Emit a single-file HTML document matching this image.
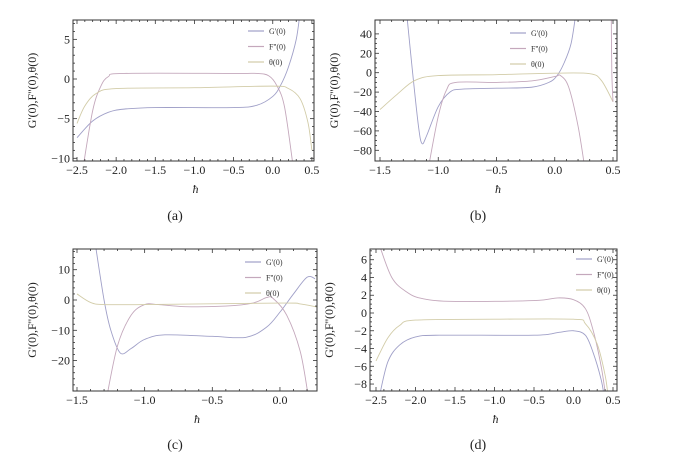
<!DOCTYPE html>
<html><head><meta charset="utf-8"><style>
body{margin:0;background:#fff}
svg{display:block}
text{font-family:"Liberation Serif","DejaVu Serif",serif}
</style></head><body>
<svg id="s" width="676" height="458" xmlns="http://www.w3.org/2000/svg"></svg>
<script>
const S=document.getElementById('s');const NS='http://www.w3.org/2000/svg';
function el(t,a,txt){const e=document.createElementNS(NS,t);for(const k in a)e.setAttribute(k,a[k]);if(t==='text')e.setAttribute('font-family',"'Liberation Serif', serif");if(txt!==undefined)e.textContent=txt;S.appendChild(e);return e;}
const C={g:'#a0a0c8',f:'#c4a8bc',t:'#d2cca8'};
function panel(p){
 const X=x=>p.x0+(x-p.xa)*p.sx, Y=y=>p.y0-(y-p.ya)*p.sy;
 const id='c'+p.name;
 const cp=el('clipPath',{id});
 const r=document.createElementNS(NS,'rect');r.setAttribute('x',p.L);r.setAttribute('y',p.T);r.setAttribute('width',p.R-p.L);r.setAttribute('height',p.B-p.T);cp.appendChild(r);
 p.curves.forEach(([c,pts])=>{
  const P=pts.map(q=>[X(q[0]),Y(q[1])]);
  let d='M'+P[0][0]+','+P[0][1];
  for(let i=0;i<P.length-1;i++){const p0=P[Math.max(0,i-1)],p1=P[i],p2=P[i+1],p3=P[Math.min(P.length-1,i+2)];
   d+=' C'+(p1[0]+(p2[0]-p0[0])/6)+','+(p1[1]+(p2[1]-p0[1])/6)+' '+(p2[0]-(p3[0]-p1[0])/6)+','+(p2[1]-(p3[1]-p1[1])/6)+' '+p2[0]+','+p2[1];}
  el('path',{d,fill:'none',stroke:C[c],'stroke-width':0.9,'clip-path':'url(#'+id+')'});
 });
 el('rect',{x:p.L,y:p.T,width:p.R-p.L,height:p.B-p.T,fill:'none',stroke:'#333','stroke-width':1});
 for(let v=p.xt[0];v<=p.xt[1]+1e-9;v+=p.xt[2]/5){const px=X(v);if(px<p.L||px>p.R)continue;
  const maj=Math.abs(Math.round(v/p.xt[2])*p.xt[2]-v)<1e-6;const l=maj?4:2;
  el('line',{x1:px,x2:px,y1:p.B,y2:p.B-l,stroke:'#333','stroke-width':.8});el('line',{x1:px,x2:px,y1:p.T,y2:p.T+l,stroke:'#333','stroke-width':.8});
  if(maj){let s=Math.abs(v)<1e-9?'0.0':v.toFixed(1).replace('-','\u2212');el('text',{x:px,y:p.B+13,'font-size':12,'text-anchor':'middle',fill:'#222'},s);}}
 for(let v=p.yt[0];v<=p.yt[1]+1e-9;v+=p.yt[2]/p.yt[3]){const py=Y(v);if(py<p.T||py>p.B)continue;
  const maj=Math.abs(Math.round(v/p.yt[2])*p.yt[2]-v)<1e-6;const l=maj?4:2;
  el('line',{x1:p.L,x2:p.L+l,y1:py,y2:py,stroke:'#333','stroke-width':.8});el('line',{x1:p.R,x2:p.R-l,y1:py,y2:py,stroke:'#333','stroke-width':.8});
  if(maj&&py<p.B-1){el('text',{x:p.L-3,y:py+4,'font-size':12,'text-anchor':'end',fill:'#222'},String(Math.round(v)).replace('-','\u2212'));}}
 el('text',{x:(p.L+p.R)/2+2,y:p.B+32,'font-size':12,'font-style':'italic','text-anchor':'middle',fill:'#222'},'ħ');
 el('text',{x:p.lab[0],y:p.lab[1],'font-size':14,'text-anchor':'middle',fill:'#222'},'('+p.name+')');
 const ym=(p.T+p.B)/2;
 el('text',{x:p.L-37,y:ym,'font-size':12,'text-anchor':'middle',fill:'#222',transform:'rotate(-90 '+(p.L-37)+' '+ym+')'},"G'(0),F''(0),θ(0)");
 const lg=p.leg;[['g',"G'(0)"],['f',"F''(0)"],['t','θ(0)']].forEach(([c,t],i)=>{
  el('line',{x1:lg[0],x2:lg[0]+16,y1:lg[1]+i*15.5,y2:lg[1]+i*15.5,stroke:C[c],'stroke-width':1.2});
  el('text',{x:lg[0]+21,y:lg[1]+i*15.5+3,'font-size':8,fill:'#333'},t);});
}
panel({name:'a',L:73,R:314,T:20,B:161,x0:77,xa:-2.5,sx:78.3,y0:79,ya:0,sy:7.93,xt:[-2.6,0.6,0.5],yt:[-10,7,5,5],lab:[175,220],leg:[248,31],
curves:[['g',[[-2.5,-7.4],[-2.3,-5.3],[-2.1,-4.2],[-1.9,-3.8],[-1.5,-3.6],[-0.5,-3.6],[-0.2,-3.3],[0,-2.2],[0.1,-0.8],[0.2,1.5],[0.3,5],[0.35,8.5]]],
['f',[[-2.42,-11],[-2.3,-4],[-2.2,-1],[-2.1,0.3],[-1.9,0.7],[-0.5,0.7],[-0.2,0.7],[-0.05,0.4],[0.05,-0.8],[0.15,-3.5],[0.26,-11]]],
['t',[[-2.5,-5.6],[-2.4,-3.4],[-2.25,-1.8],[-2,-1.2],[-1,-1.1],[0,-0.9],[0.2,-1.2],[0.35,-2.5],[0.45,-5.5],[0.5,-9]]]]});
panel({name:'b',L:375,R:617,T:20,B:161,x0:380,xa:-1.5,sx:116.5,y0:72.7,ya:0,sy:0.97,xt:[-1.5,0.5,0.5],yt:[-80,40,20,4],lab:[478,220],leg:[510,33],
curves:[['g',[[-1.27,60],[-1.22,0],[-1.17,-55],[-1.14,-73],[-1.1,-65],[-1.0,-35],[-0.9,-20],[-0.8,-17],[-0.5,-16],[-0.2,-15],[-0.05,-10],[0.02,-3],[0.08,10],[0.14,30],[0.18,60]]],
['f',[[-1.08,-95],[-1.0,-45],[-0.93,-18],[-0.85,-10],[-0.5,-10],[-0.2,-8.5],[0,-4],[0.05,-3],[0.12,-15],[0.2,-55],[0.26,-100]]],
['t',[[-1.5,-38],[-1.35,-22],[-1.2,-8],[-1,-3],[-0.5,-2],[0,-0.5],[0.3,-1],[0.4,-8],[0.5,-30]]],
['f',[[0.485,60],[0.49,0],[0.5,-30]]]]});
panel({name:'c',L:73,R:317,T:249,B:391,x0:77,xa:-1.5,sx:135.3,y0:300,ya:0,sy:3.03,xt:[-1.5,0.3,0.5],yt:[-30,16,10,5],lab:[175,449],leg:[245,262],
curves:[['g',[[-1.37,20],[-1.3,0],[-1.25,-10],[-1.18,-17.5],[-1.1,-16],[-1,-13],[-0.85,-11.5],[-0.5,-12],[-0.25,-12.3],[-0.1,-9],[0,-4],[0.1,2],[0.2,7.5],[0.26,7]]],
['f',[[-1.28,-32],[-1.2,-15],[-1.1,-5],[-1,-1.5],[-0.9,-1.5],[-0.7,-2.2],[-0.4,-2],[-0.2,-1],[-0.1,0.8],[-0.05,0.5],[0.05,-5],[0.15,-17],[0.21,-32]]],
['t',[[-1.5,2],[-1.4,-0.8],[-1.3,-1.5],[-1,-1.5],[0,-1],[0.15,-1.3],[0.27,-2.3]]]]});
panel({name:'d',L:370,R:617,T:249,B:391,x0:376,xa:-2.5,sx:79,y0:313,ya:0,sy:8.88,xt:[-2.6,0.6,0.5],yt:[-8,7,2,4],lab:[478,449],leg:[576,259],
curves:[['f',[[-2.47,8],[-2.3,4],[-2.1,2.3],[-1.9,1.6],[-1.5,1.3],[-0.5,1.4],[-0.2,1.7],[0,1.5],[0.15,0.5],[0.25,-2],[0.35,-6],[0.41,-9.5]]],
['t',[[-2.5,-5.4],[-2.35,-2.8],[-2.2,-1.4],[-2,-0.8],[-1,-0.7],[0,-0.7],[0.15,-1.2],[0.3,-3.5],[0.4,-7],[0.44,-9.5]]],
['g',[[-2.46,-9.5],[-2.35,-5.5],[-2.2,-3.6],[-2,-2.7],[-1.7,-2.5],[-0.5,-2.5],[-0.2,-2.2],[0,-2],[0.15,-2.5],[0.25,-4.5],[0.35,-7.5],[0.39,-9.5]]]]});
</script>
</body></html>
